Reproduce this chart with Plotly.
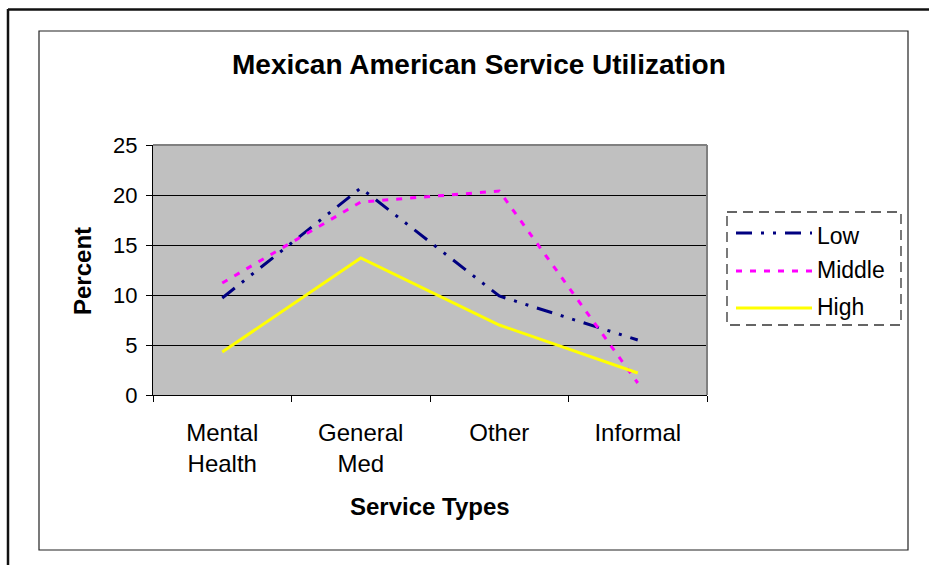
import plotly.graph_objects as go

# ---- data ----
categories = ["Mental<br>Health", "General<br>Med", "Other", "Informal"]
series_names = ["Low", "Middle", "High"]
low_values = [9.7, 20.7, 9.9, 5.5]
middle_values = [11.2, 19.3, 20.4, 1.2]
high_values = [4.3, 13.7, 7.0, 2.2]
series_values = [low_values, middle_values, high_values]
y_ticks = [0, 5, 10, 15, 20, 25]

# ---- styles ----
colors = ["#000080", "#FF00FF", "#FFFF00"]
dashes = ["16px,9px,3px,9px,3px,9px", "6px,8px", "solid"]
FONT = "Liberation Sans, Arial, sans-serif"

W, H = 929, 565
L, R, T, B = 153, 707, 145, 395  # plot area in pixels


def px(X):
    return (X - L) / (R - L)


def py(Y):
    return (B - Y) / (B - T)


fig = go.Figure()
for name, vals, c, d in zip(series_names, series_values, colors, dashes):
    fig.add_trace(go.Scatter(
        x=categories, y=vals, name=name, mode="lines",
        line=dict(color=c, width=3, dash=d),
        showlegend=False,
    ))

fig.update_layout(
    width=W, height=H,
    margin=dict(l=L, r=W - R, t=T, b=H - B, pad=0),
    paper_bgcolor="white",
    plot_bgcolor="#C0C0C0",
    font=dict(family=FONT, color="black"),
    xaxis=dict(
        type="category", range=[-0.5, 3.5],
        showgrid=False, zeroline=False,
        showline=True, linecolor="black", linewidth=1,
        ticks="outside", tickson="boundaries", ticklen=6, tickcolor="black",
        tickfont=dict(size=24, family=FONT),
        ticklabelstandoff=16,
    ),
    yaxis=dict(
        range=[0, 25], tickvals=y_ticks,
        showgrid=True, gridcolor="black", gridwidth=1,
        zeroline=False,
        showline=True, linecolor="black", linewidth=1,
        ticks="outside", ticklen=6, tickcolor="black",
        tickfont=dict(size=22, family=FONT),
        ticklabelstandoff=4,
    ),
)

shapes = []
# outer frame (top + left edges)
shapes.append(dict(type="line", xref="paper", yref="paper",
                   x0=px(8), y0=py(9.5), x1=px(935), y1=py(9.5),
                   line=dict(color="#111", width=2.5)))
shapes.append(dict(type="line", xref="paper", yref="paper",
                   x0=px(8), y0=py(9), x1=px(8), y1=py(570),
                   line=dict(color="#111", width=2.5)))
# inner chart box
shapes.append(dict(type="rect", xref="paper", yref="paper",
                   x0=px(39), y0=py(31), x1=px(908), y1=py(550),
                   line=dict(color="#222", width=1.2)))
# plot area top/right border gray
shapes.append(dict(type="line", xref="paper", yref="paper",
                   x0=0, y0=1, x1=1, y1=1,
                   line=dict(color="#808080", width=2)))
shapes.append(dict(type="line", xref="paper", yref="paper",
                   x0=1, y0=0, x1=1, y1=1,
                   line=dict(color="#808080", width=2)))
# legend box (dashed)
shapes.append(dict(type="rect", xref="paper", yref="paper",
                   x0=px(727), y0=py(212), x1=px(901), y1=py(325),
                   line=dict(color="#333", width=1.3, dash="10px,6px")))

annotations = []
legend_line_y = [233, 271, 308]
legend_text_y = [236, 270, 307]
for name, c, d, ly, ty in zip(series_names, colors, dashes, legend_line_y, legend_text_y):
    shapes.append(dict(type="line", xref="paper", yref="paper",
                       x0=px(736), y0=py(ly), x1=px(812), y1=py(ly),
                       line=dict(color=c, width=3, dash=d)))
    annotations.append(dict(text=name, xref="paper", yref="paper",
                            x=px(815), y=py(ty), xanchor="left", yanchor="middle",
                            showarrow=False, font=dict(size=23, family=FONT)))

annotations.append(dict(text="<b>Mexican American Service Utilization</b>",
                        xref="paper", yref="paper", x=px(479), y=py(65),
                        xanchor="center", yanchor="middle", showarrow=False,
                        font=dict(size=28, family=FONT)))
annotations.append(dict(text="<b>Service Types</b>",
                        xref="paper", yref="paper", x=px(430), y=py(506),
                        xanchor="center", yanchor="middle", showarrow=False,
                        font=dict(size=24, family=FONT)))
annotations.append(dict(text="<b>Percent</b>", textangle=-90,
                        xref="paper", yref="paper", x=px(82), y=py(271),
                        xanchor="center", yanchor="middle", showarrow=False,
                        font=dict(size=24, family=FONT)))

fig.update_layout(shapes=shapes, annotations=annotations)
fig.write_html("out.html")
